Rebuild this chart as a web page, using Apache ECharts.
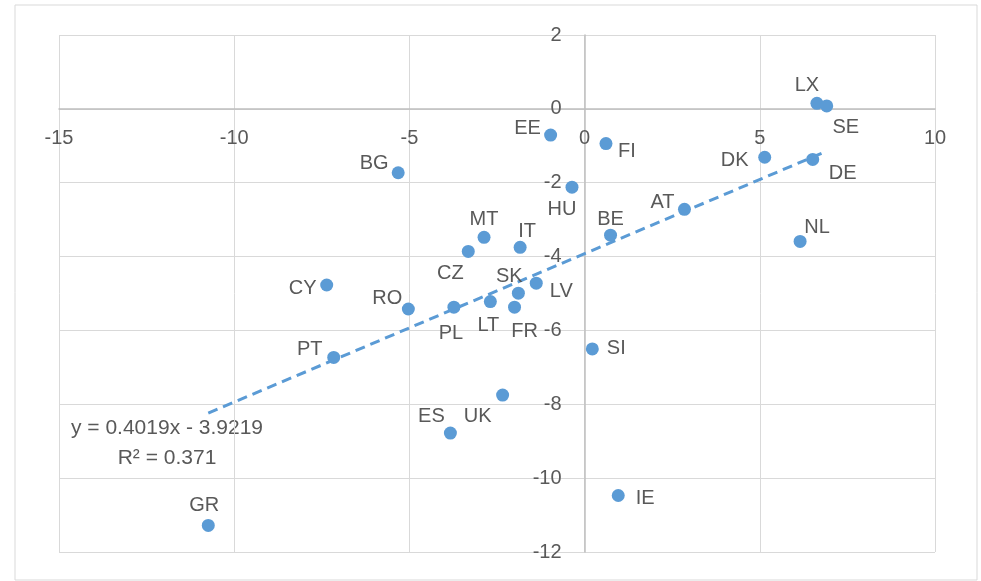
<!DOCTYPE html>
<html>
<head>
<meta charset="utf-8">
<script src="https://cdn.jsdelivr.net/npm/echarts@6/dist/echarts.min.js"></script>
<style>
  html, body { margin: 0; padding: 0; background: #fff; }
  #main { width: 981px; height: 581px; }
</style>
</head>
<body>
<div id="main"></div>
<script>
  // country codes and their x / y values
  var countries = ["LX","SE","DK","DE","NL","AT","BE","FI","EE","HU","BG","MT","CZ","IT","CY","RO","PL","LT","SK","LV","FR","PT","SI","IE","GR","ES","UK"];
  var xValues = [6.63,6.91,5.14,6.51,6.15,2.85,0.74,0.61,-0.97,-0.36,-5.32,-2.87,-3.32,-1.84,-7.36,-5.03,-3.73,-2.69,-1.89,-1.38,-2.0,-7.16,0.22,0.96,-10.74,-3.83,-2.34];
  var yValues = [0.15,0.08,-1.31,-1.37,-3.59,-2.72,-3.42,-0.94,-0.71,-2.12,-1.73,-3.48,-3.86,-3.75,-4.77,-5.42,-5.37,-5.22,-4.99,-4.72,-5.37,-6.73,-6.5,-10.47,-11.28,-8.78,-7.75];

  // linear trendline as printed on the chart
  var slope = 0.4019;
  var intercept = -3.9219;
  var rSquared = 0.371;

  // where each data label sits relative to its dot (px)
  var labelOffsets = {
    LX:[-10,-21], SE:[19,19], DK:[-30,0], DE:[30,11], NL:[17,-17],
    AT:[-22,-10], BE:[0,-19], FI:[21,5], EE:[-23,-10], HU:[-10,19],
    BG:[-24,-12], MT:[0,-21], CZ:[-18,19], IT:[7,-19], CY:[-24,0],
    RO:[-21,-14], PL:[-3,23], LT:[-2,21], SK:[-9,-20], LV:[25,5],
    FR:[10,21], PT:[-24,-11], SI:[24,-3], IE:[27,0], GR:[-4,-23],
    ES:[-19,-20], UK:[-25,18]
  };

  var blue = '#5b9bd5';
  var textColor = '#595959';
  var font = 'Liberation Sans';

  // plot area
  var gLeft = 59, gTop = 35, gWidth = 876, gHeight = 517;
  var xMinAxis = -15, xMaxAxis = 10, yMinAxis = -12, yMaxAxis = 2;
  // axes cross at zero, labels go with them
  var xAxisShift = gHeight * (0 - yMinAxis) / (yMaxAxis - yMinAxis);
  var yAxisShift = gWidth * (0 - xMinAxis) / (xMaxAxis - xMinAxis);

  var points = [];
  for (var i = 0; i < countries.length; i++) {
    var off = labelOffsets[countries[i]];
    points.push({
      name: countries[i],
      value: [xValues[i], yValues[i]],
      label: { offset: [off[0], off[1] + 3] }
    });
  }

  var xMin = Math.min.apply(null, xValues);
  var xMax = Math.max.apply(null, xValues);
  var trend = [
    [xMin, slope * xMin + intercept],
    [xMax, slope * xMax + intercept]
  ];

  var myChart = echarts.init(document.getElementById('main'));
  myChart.setOption({
    animation: false,
    backgroundColor: '#fff',
    textStyle: { fontFamily: font },
    grid: { left: gLeft, top: gTop, width: gWidth, height: gHeight, containLabel: false },
    graphic: [
      {
        type: 'rect',
        shape: { x: 15, y: 5, width: 962, height: 575 },
        style: { fill: 'none', stroke: '#d9d9d9', lineWidth: 1 },
        silent: true
      },
      {
        type: 'text',
        x: 167, y: 413,
        style: {
          text: 'y = ' + slope + 'x - ' + Math.abs(intercept) + '\nR² = ' + rSquared,
          fill: textColor, font: '21px ' + font, align: 'center', lineHeight: 30
        },
        silent: true
      }
    ],
    xAxis: {
      type: 'value',
      min: xMinAxis, max: xMaxAxis, interval: 5,
      offset: -xAxisShift,
      axisLine: { show: true, onZero: false, lineStyle: { color: '#bfbfbf', width: 1.5 } },
      axisTick: { show: false },
      axisLabel: { color: textColor, fontSize: 20, fontFamily: font, margin: 20 },
      splitLine: { show: true, lineStyle: { color: '#d9d9d9', width: 1 } }
    },
    yAxis: {
      type: 'value',
      min: yMinAxis, max: yMaxAxis, interval: 2,
      offset: -yAxisShift,
      axisLine: { show: true, onZero: false, lineStyle: { color: '#bfbfbf', width: 1.5 } },
      axisTick: { show: false },
      axisLabel: { color: textColor, fontSize: 20, fontFamily: font, margin: 23 },
      splitLine: { show: true, lineStyle: { color: '#d9d9d9', width: 1 } }
    },
    series: [
      {
        type: 'line',
        data: trend,
        symbol: 'none',
        z: 1,
        lineStyle: { color: blue, width: 3, type: [10, 6] }
      },
      {
        type: 'scatter',
        data: points,
        symbol: 'circle',
        symbolSize: 13,
        z: 3,
        itemStyle: { color: blue, opacity: 1 },
        label: {
          show: true,
          position: 'inside',
          formatter: '{b}',
          color: textColor,
          fontSize: 20,
          fontFamily: font
        }
      }
    ]
  });
</script>
</body>
</html>
